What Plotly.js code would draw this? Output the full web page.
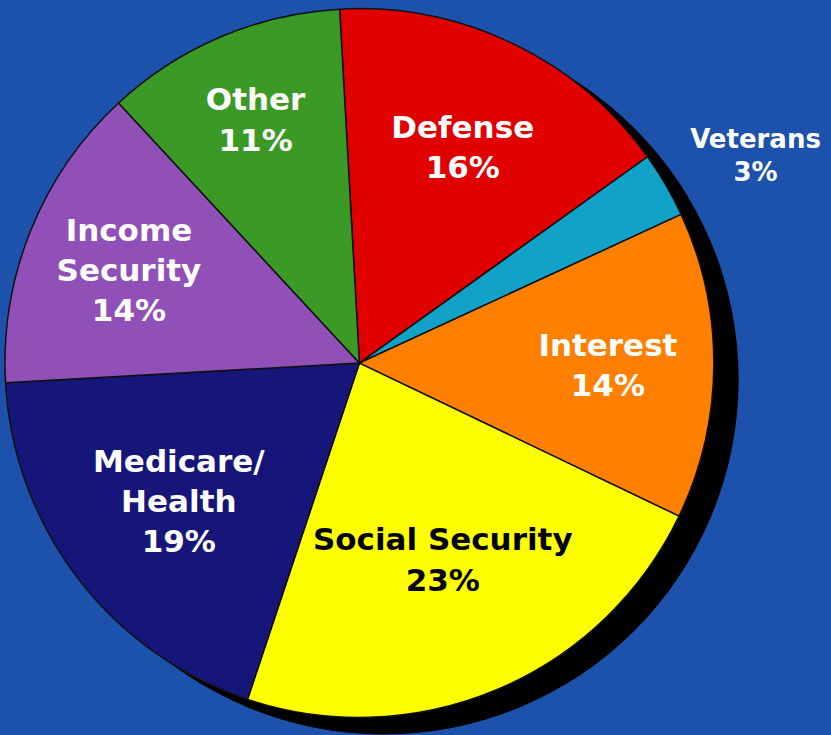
<!DOCTYPE html>
<html>
<head>
<meta charset="utf-8">
<script src="https://cdn.plot.ly/plotly-3.0.1.min.js"></script>
<style>html,body{margin:0;padding:0;background:#1c52ab;}#chart{width:831px;height:735px;}</style>
</head>
<body>
<div id="chart"></div>
<script>
const categories = ["Defense", "Veterans", "Interest", "Social Security", "Medicare/Health", "Income Security", "Other"];
const labelLines = ["Defense", "Veterans", "Interest", "Social Security", "Medicare/<br>Health", "Income<br>Security", "Other"];
const values = [16, 3, 14, 23, 19, 14, 11];
const colors = ["#e00000", "#12a2c8", "#ff8000", "#ffff00", "#16167a", "#9050b8", "#3b9a26"];
const textColors = ["#ffffff", "#ffffff", "#ffffff", "#000000", "#ffffff", "#ffffff", "#ffffff"];
const positions = ["inside", "outside", "inside", "inside", "inside", "inside", "inside"];

const texts = labelLines.map((l, i) => l + "<br>" + values[i] + "%" + (positions[i] === "outside" ? "<br> " : ""));

const shadow = {
  type: "pie",
  values: [1],
  labels: ["shadow"],
  marker: {colors: ["#000000"], line: {width: 0}},
  textinfo: "none",
  hoverinfo: "skip",
  sort: false,
  showlegend: false,
  domain: {x: [0.0345, 0.8889], y: [0.0007, 0.9667]}
};

const pie = {
  type: "pie",
  labels: categories,
  values: values,
  text: texts,
  textinfo: "text",
  textposition: positions,
  insidetextorientation: "horizontal",
  textfont: {family: "'DejaVu Sans', sans-serif", size: 31, color: textColors, weight: 700},
  outsidetextfont: {family: "'DejaVu Sans', sans-serif", size: 26, color: "#ffffff", weight: 700},
  marker: {colors: colors, line: {color: "#111111", width: 1.5}},
  sort: false,
  direction: "clockwise",
  rotation: -3.2,
  showlegend: false,
  domain: {x: [0.006, 0.859], y: [0.0231, 0.989]}
};

const layout = {
  width: 831, height: 735,
  margin: {l: 0, r: 0, t: 0, b: 0},
  paper_bgcolor: "#1c52ab",
  plot_bgcolor: "#1c52ab",
  showlegend: false
};

Plotly.newPlot("chart", [shadow, pie], layout, {displayModeBar: false, staticPlot: true});
</script>
</body>
</html>
